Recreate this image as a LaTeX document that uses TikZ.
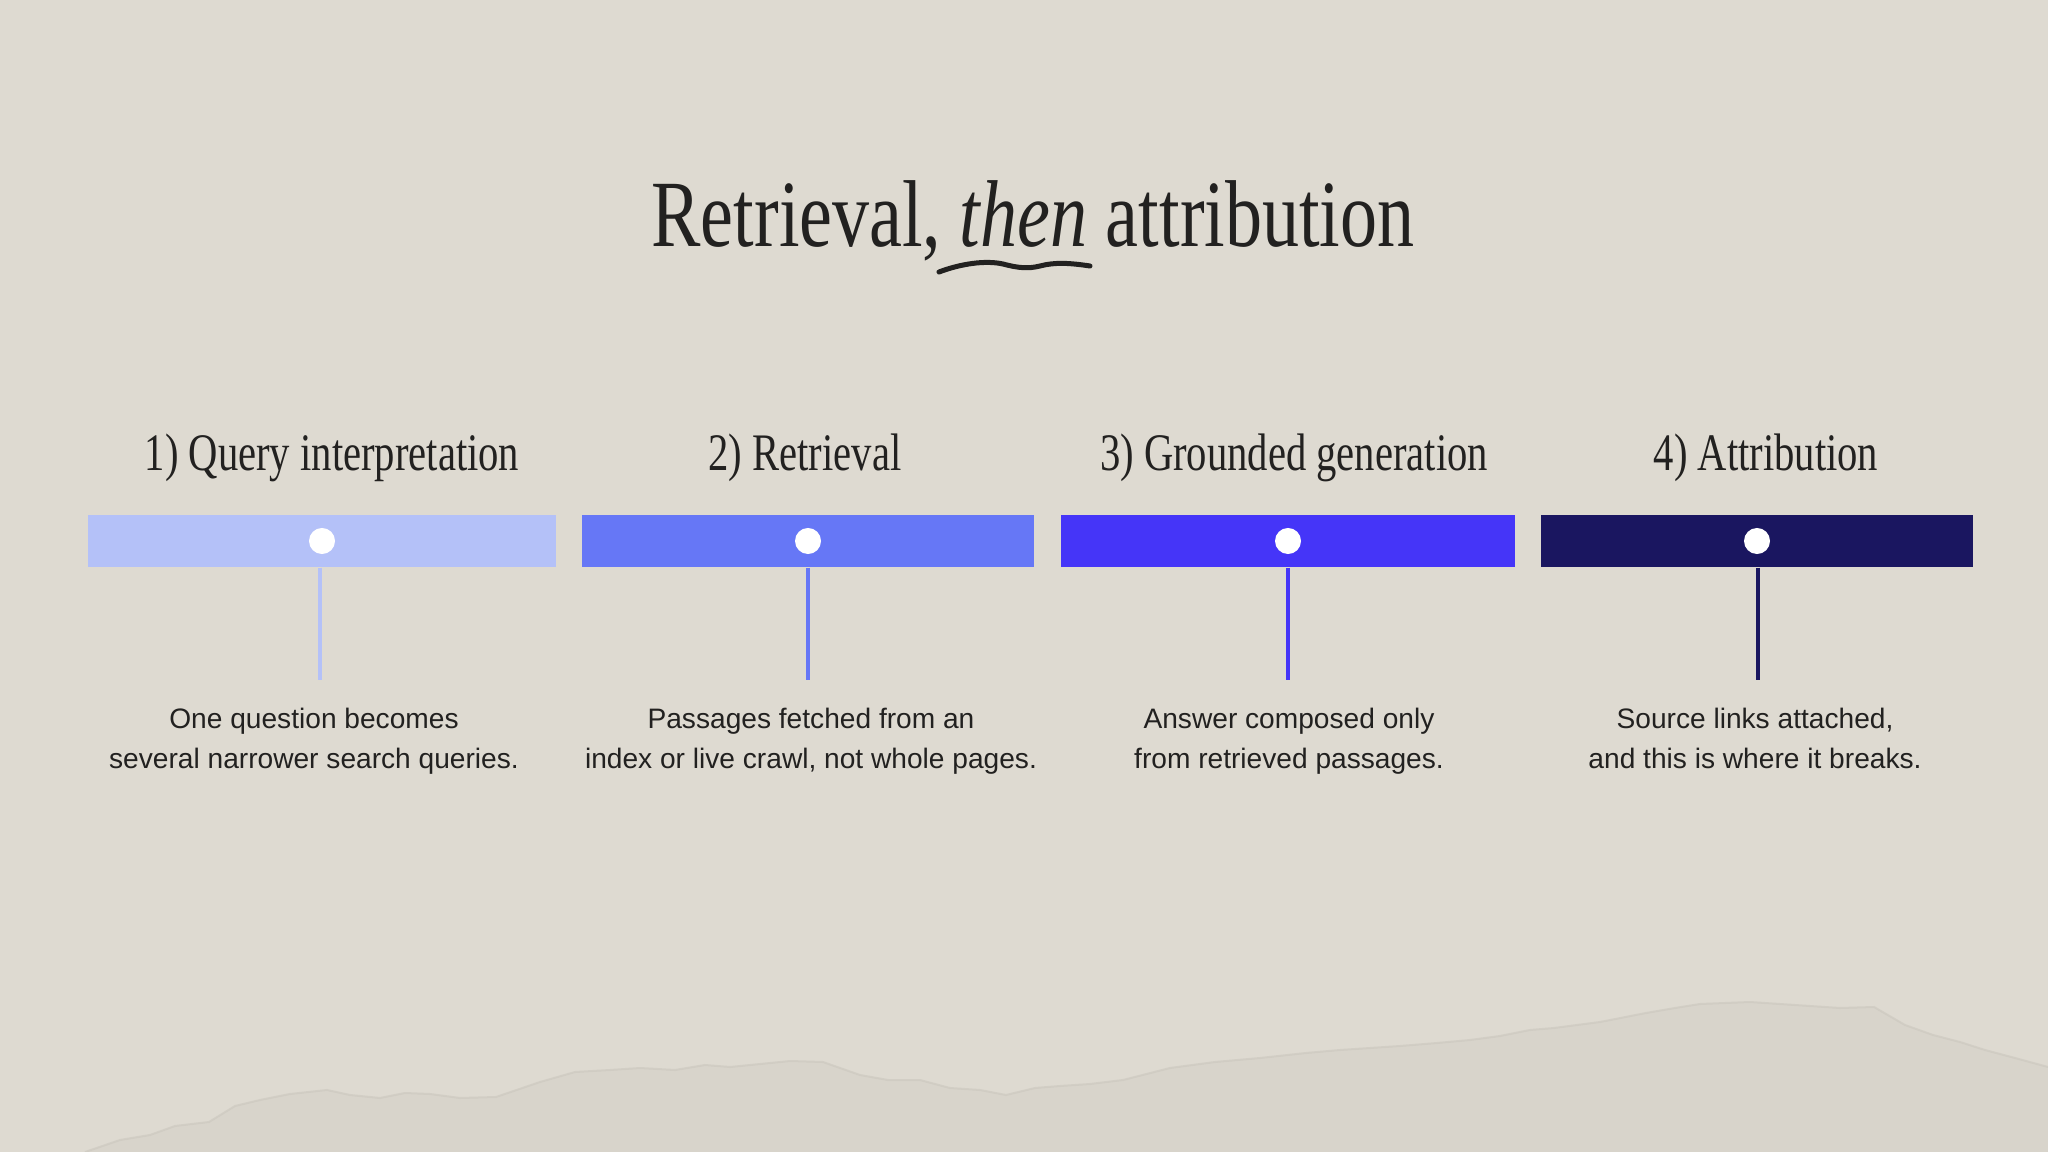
\documentclass[tikz,border=0pt]{standalone}
\usepackage{fontspec}
\setmainfont{Liberation Serif}
\newfontfamily\bodyfont{Liberation Sans}
\usetikzlibrary{positioning}
\definecolor{paper}{HTML}{DEDAD1}
\definecolor{paperdark}{HTML}{D8D4CB}
\definecolor{ridge}{HTML}{CBC7BE}
\definecolor{ink}{HTML}{222120}
\definecolor{stepone}{HTML}{B4C1F8}
\definecolor{steptwo}{HTML}{6677F6}
\definecolor{stepthree}{HTML}{4535F8}
\definecolor{stepfour}{HTML}{1A1660}
\def\narrow#1#2{\scalebox{#1}[1]{#2}}
\tikzset{
  heading/.style={anchor=base, inner sep=0, text=ink, font=\fontsize{15}{18}\selectfont},
  desc/.style={anchor=base, inner sep=0, align=center, text=ink, font=\bodyfont\fontsize{8}{11.1}\selectfont},
  bar/.style={inner sep=0, minimum height=0.52cm},
  dot/.style={circle, fill=white, inner sep=0, minimum size=0.26cm},
  stem/.style={line width=0.04cm}
}

\begin{document}
\begin{tikzpicture}[x=0.01cm, y=-0.01cm]
			%%%%% START %%%%%
			
			\fill[paper] (0, 0) rectangle (2048, 1152);
			\useasboundingbox (0, 0) rectangle (2048, 1152);
			
			\fill[paperdark] (85, 1152) -- (120, 1140) -- (150, 1135) -- (175, 1126) -- (209, 1122) -- (235, 1106) -- (260, 1100) -- (290, 1094) -- (327, 1090) -- (350, 1095) -- (380, 1098) -- (405, 1093) -- (430, 1094) -- (460, 1098) -- (496, 1097) -- (540, 1082) -- (575, 1072) -- (610, 1070) -- (640, 1068) -- (675, 1070) -- (705, 1065) -- (730, 1067) -- (760, 1064) -- (790, 1061) -- (823, 1062) -- (860, 1075) -- (888, 1080) -- (920, 1080) -- (950, 1088) -- (980, 1090) -- (1006, 1095) -- (1035, 1088) -- (1060, 1086) -- (1090, 1084) -- (1123, 1080) -- (1170, 1068) -- (1215, 1062) -- (1260, 1058) -- (1306, 1053) -- (1340, 1050) -- (1370, 1048) -- (1400, 1046) -- (1437, 1043) -- (1470, 1040) -- (1500, 1036) -- (1530, 1030) -- (1554, 1028) -- (1600, 1022) -- (1646, 1013) -- (1675, 1008) -- (1700, 1004) -- (1750, 1002) -- (1780, 1004) -- (1810, 1006) -- (1840, 1008) -- (1874, 1007) -- (1905, 1025) -- (1933, 1035) -- (1960, 1042) -- (1985, 1050) -- (2015, 1058) -- (2048, 1067) -- (2048, 1152) -- cycle;
			\draw[ridge, line width=0.02cm, opacity=0.6] (85, 1152) -- (120, 1140) -- (150, 1135) -- (175, 1126) -- (209, 1122) -- (235, 1106) -- (260, 1100) -- (290, 1094) -- (327, 1090) -- (350, 1095) -- (380, 1098) -- (405, 1093) -- (430, 1094) -- (460, 1098) -- (496, 1097) -- (540, 1082) -- (575, 1072) -- (610, 1070) -- (640, 1068) -- (675, 1070) -- (705, 1065) -- (730, 1067) -- (760, 1064) -- (790, 1061) -- (823, 1062) -- (860, 1075) -- (888, 1080) -- (920, 1080) -- (950, 1088) -- (980, 1090) -- (1006, 1095) -- (1035, 1088) -- (1060, 1086) -- (1090, 1084) -- (1123, 1080) -- (1170, 1068) -- (1215, 1062) -- (1260, 1058) -- (1306, 1053) -- (1340, 1050) -- (1370, 1048) -- (1400, 1046) -- (1437, 1043) -- (1470, 1040) -- (1500, 1036) -- (1530, 1030) -- (1554, 1028) -- (1600, 1022) -- (1646, 1013) -- (1675, 1008) -- (1700, 1004) -- (1750, 1002) -- (1780, 1004) -- (1810, 1006) -- (1840, 1008) -- (1874, 1007) -- (1905, 1025) -- (1933, 1035) -- (1960, 1042) -- (1985, 1050) -- (2015, 1058) -- (2048, 1067);
			
			% title
			\node[anchor=base, inner sep=0, text=ink, font=\fontsize{27}{30}\selectfont] (title) at (1033, 247) {\narrow{0.78}{Retrieval, \textit{then} attribution}};
			\draw[ink, line width=0.05cm, line cap=round] (939, 272) .. controls (960, 264) and (985, 260) .. (1003, 264) .. controls (1018, 268) and (1028, 269) .. (1040, 266) .. controls (1055, 262) and (1070, 263) .. (1090, 266);
			
			% headings
			\node[heading] (head1) at (332, 471) {\narrow{0.77}{1) Query interpretation}};
			\node[heading] (head2) at (805, 471) {\narrow{0.77}{2) Retrieval}};
			\node[heading] (head3) at (1294, 471) {\narrow{0.77}{3) Grounded generation}};
			\node[heading] (head4) at (1766, 471) {\narrow{0.77}{4) Attribution}};
			
			% bars
			\node[bar, fill=stepone, minimum width=4.68cm] (bar1) at (322, 541) {};
			\node[bar, fill=steptwo, minimum width=4.51cm] (bar2) at (808, 541) {};
			\node[bar, fill=stepthree, minimum width=4.53cm] (bar3) at (1288, 541) {};
			\node[bar, fill=stepfour, minimum width=4.31cm] (bar4) at (1757, 541) {};
			
			\node[dot] (dot1) at (bar1.center) {};
			\node[dot] (dot2) at (bar2.center) {};
			\node[dot] (dot3) at (bar3.center) {};
			\node[dot] (dot4) at (bar4.center) {};
			
			% stems
			\coordinate (end1) at (320, 680);
			\coordinate (end2) at (808, 680);
			\coordinate (end3) at (1288, 680);
			\coordinate (end4) at (1758, 680);
			\draw[stem, stepone] (bar1.south -| end1) -- (end1);
			\draw[stem, steptwo] (bar2.south -| end2) -- (end2);
			\draw[stem, stepthree] (bar3.south -| end3) -- (end3);
			\draw[stem, stepfour] (bar4.south -| end4) -- (end4);
			
			% texts
			\node[desc] (desc1) at (314, 768) {One question becomes\\several narrower search queries.};
			\node[desc] (desc2) at (811, 768) {Passages fetched from an\\index or live crawl, not whole pages.};
			\node[desc] (desc3) at (1289, 768) {Answer composed only\\from retrieved passages.};
			\node[desc] (desc4) at (1755, 768) {Source links attached,\\and this is where it breaks.};
			
			%%%%% END %%%%%
\end{tikzpicture}
\end{document}
